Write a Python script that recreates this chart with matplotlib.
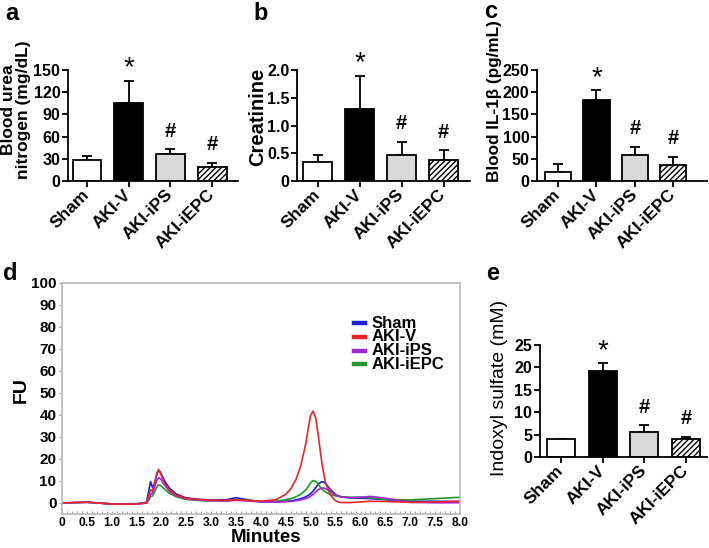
import matplotlib; matplotlib.use("Agg")
import matplotlib.pyplot as plt
from matplotlib.lines import Line2D
import numpy as np

plt.rcParams.update({"font.family": ["Liberation Sans", "DejaVu Sans"], "font.weight": "bold",
                     "hatch.linewidth": 1.0, "text.color": "black"})
W, H = 709, 548

# ---- bar data (a, b, c, e) ----
groups = ["Sham", "AKI-V", "AKI-iPS", "AKI-iEPC"]
bar_fill = ["white", "black", "#d9d9d9", "white"]
bar_hatch = [None, None, None, "//////"]
marks = ["", "*", "#", "#"]

bun_mean = [28.4, 105.8, 36.5, 19.4]
bun_err = [5.4, 29.8, 6.3, 5.4]
creat_mean = [0.34, 1.29, 0.47, 0.38]
creat_err = [0.12, 0.61, 0.24, 0.17]
il1b_mean = [21, 183, 59, 35]
il1b_err = [17, 21, 18, 19]
ind_mean = [4.0, 19.3, 5.6, 4.0]
ind_err = [0.0, 1.6, 1.5, 0.5]

# ---- chromatogram (d) ----
t_min = [0, 0.5, 1.0, 1.5, 1.70, 1.74, 1.78, 1.82, 1.86, 1.90, 1.94, 1.98, 2.05, 2.15, 2.3, 2.5,
         2.8, 3.0, 3.3, 3.5, 3.7, 4.0, 4.3, 4.5, 4.6, 4.7, 4.8, 4.9, 4.95, 5.0, 5.05, 5.1, 5.15,
         5.2, 5.25, 5.3, 5.4, 5.5, 5.6, 5.8, 6.0, 6.2, 6.5, 7.0, 7.5, 8.0]
fu_sham = [0, 0.4, -0.4, -0.3, 0.3, 5, 9.7, 7, 9, 12.5, 14.8, 14, 10.5, 7, 4, 2.3,
           1.6, 1.4, 1.5, 2.4, 1.6, 0.6, 0.6, 0.8, 1.0, 1.4, 2, 2.8, 3.5, 4.3, 5.5, 7, 8.5,
           9.5, 9.7, 8.8, 6, 3.8, 2.8, 2.3, 2.2, 2.0, 1.5, 0.8, 0.8, 0.6]
fu_akiv = [0, 0.4, -0.5, -0.5, 0, 3, 6, 5.5, 9, 13, 15.3, 13.5, 9.5, 6, 3.5, 2,
           1.5, 1.3, 1.2, 1.4, 1.2, 0.8, 1.5, 4, 6.5, 10.5, 17, 27, 34, 40, 41.8, 38.5, 31,
           22, 14.5, 9, 3.5, 1, 0.2, 0.2, 0.5, 0.8, 0.7, 0.3, 0.5, 0.8]
fu_ips = [0, 0.3, -0.4, -0.5, 0, 1.5, 4, 4.5, 7, 10, 11.5, 11, 8.5, 5.5, 3.2, 1.8,
          1.2, 1.0, 0.9, 1.2, 1.0, 0.5, 0.4, 0.6, 0.7, 1.0, 1.4, 2, 2.5, 3.2, 4.0, 5, 6,
          6.6, 6.9, 6.5, 5, 3.5, 2.8, 2.4, 2.6, 3.0, 2.2, 0.3, 0.1, 0.1]
fu_iepc = [0, 0.3, -0.4, -0.4, 0, 1.2, 3, 3.2, 5, 7, 8.2, 8, 6.5, 4.5, 2.8, 1.6,
           1.1, 1.0, 1.0, 1.5, 1.2, 0.6, 0.8, 1.5, 2, 2.8, 4, 6, 7.5, 9.3, 10.2, 9.8, 8.5,
           7, 5.8, 5, 3.8, 3.2, 2.9, 2.6, 2.6, 2.4, 1.6, 1.4, 2.0, 2.6]
trace_names = ["Sham", "AKI-V", "AKI-iPS", "AKI-iEPC"]
trace_vals = [fu_sham, fu_akiv, fu_ips, fu_iepc]
trace_cols = ["#1f1fd6", "#e8262a", "#a127d6", "#1f9a2a"]
draw_order = [0, 3, 2, 1]

fig = plt.figure(figsize=(W / 100, H / 100), dpi=100)
fig.patch.set_facecolor("white")

def box(l, t, r, b):
    return fig.add_axes([l / W, 1 - b / H, (r - l) / W, (b - t) / H])

def bar_panel(ax, means, errs, ylim, yticks, yticklabels, xlim, width=0.69):
    x = np.arange(len(groups))
    bars = ax.bar(x, means, width=width, color=bar_fill, edgecolor="black", linewidth=1.3, zorder=2)
    for b, h in zip(bars, bar_hatch):
        if h:
            b.set_hatch(h)
    ax.errorbar(x, means, yerr=[np.zeros(len(errs)), errs], fmt="none", ecolor="black",
                elinewidth=1.3, capsize=3.5, capthick=1.3, zorder=1)
    for i, m in enumerate(marks):
        if m == "*":
            ax.annotate(m, (i, means[i] + errs[i]), xytext=(0, 9), textcoords="offset points",
                        ha="center", va="center", fontsize=20, fontweight="normal", annotation_clip=False)
        elif m:
            ax.annotate(m, (i, means[i] + errs[i]), xytext=(0, 13), textcoords="offset points",
                        ha="center", va="center", fontsize=14.5, fontweight="bold", annotation_clip=False)
    ax.set_ylim(*ylim); ax.set_xlim(*xlim)
    ax.set_yticks(yticks); ax.set_yticklabels(yticklabels, fontsize=11.5, fontweight="bold")
    ax.set_xticks(x)
    ax.set_xticklabels(groups, rotation=45, ha="right", va="center", rotation_mode="anchor",
                       fontsize=12.5, fontweight="bold")
    for sp in ["top", "right"]:
        ax.spines[sp].set_visible(False)
    for sp in ["left", "bottom"]:
        ax.spines[sp].set_linewidth(1.3)
    ax.tick_params(axis="both", length=4, width=1.3, pad=1.5)
    ax.tick_params(axis="x", pad=4)

axa = box(68, 70, 238, 181)
bar_panel(axa, bun_mean, bun_err, (0, 150), range(0, 151, 30), [str(v) for v in range(0, 151, 30)], (-0.456, 3.62))
axb = box(297, 70, 470, 181)
bar_panel(axb, creat_mean, creat_err, (0, 2.0), [0, 0.5, 1.0, 1.5, 2.0], ["0", "0.5", "1.0", "1.5", "2.0"], (-0.5, 3.63))
axc = box(537, 70, 707, 181)
bar_panel(axc, il1b_mean, il1b_err, (0, 250), range(0, 251, 50), [str(v) for v in range(0, 251, 50)], (-0.55, 3.88))
axe = box(540, 345, 707, 457)
bar_panel(axe, ind_mean, ind_err, (0, 25), range(0, 26, 5), [str(v) for v in range(0, 26, 5)], (-0.5, 3.5), width=0.67)

# ---- chromatogram ----
axd = box(62, 283, 460, 514)
for k in draw_order:
    axd.plot(t_min, trace_vals[k], color=trace_cols[k], lw=1.2)
axd.set_xlim(0, 8); axd.set_ylim(-5, 100)
xt = np.arange(0, 8.01, 0.5)
axd.set_xticks(xt)
axd.set_xticklabels(["0"] + ["%.1f" % v for v in xt[1:]], fontsize=8.7, fontweight="bold")
axd.set_xticks(np.arange(0, 8.01, 0.1), minor=True)
axd.set_yticks(range(0, 101, 10))
axd.set_yticklabels([str(v) for v in range(0, 101, 10)], fontsize=11, fontweight="bold")
for sp in axd.spines.values():
    sp.set_color("#bdbdbd"); sp.set_linewidth(1.3)
axd.tick_params(axis="y", which="major", length=2.5, width=0.8, color="#9a9a9a", pad=1.5)
axd.tick_params(axis="x", which="both", direction="in", length=2, width=0.7, color="#9a9a9a", pad=2)
for i, name in enumerate(trace_names):
    y = 1 - (323 + i * 13.8) / H
    fig.add_artist(Line2D([354 / W, 365 / W], [y, y], color=trace_cols[i], lw=3.2))
    fig.text(372 / W, y, name, va="center", ha="left", fontsize=12, fontweight="bold")

# ---- axis titles ----
fig.text(16 / W, 1 - 110 / H, "Blood urea\nnitrogen (mg/dL)", rotation=90, ha="center", va="center",
         fontsize=12.5, fontweight="bold", linespacing=1.0)
fig.text(258 / W, 1 - 117 / H, "Creatinine", rotation=90, ha="center", va="center", fontsize=14.5, fontweight="bold")
fig.text(495 / W, 1 - 101 / H, "Blood IL-1β (pg/mL)", rotation=90, ha="center", va="center", fontsize=12.3, fontweight="bold")
fig.text(500 / W, 1 - 388 / H, "Indoxyl sulfate (mM)", rotation=90, ha="center", va="center", fontsize=14, fontweight="normal")
fig.text(21 / W, 1 - 390 / H, "FU", rotation=90, ha="center", va="center", fontsize=14, fontweight="bold")
fig.text(266 / W, 1 - 529 / H, "Minutes", ha="center", va="top", fontsize=13.5, fontweight="bold")

# ---- panel letters ----
for lab, x, y in [("a", 5, 20), ("b", 253, 20), ("c", 484, 18), ("d", 3, 280), ("e", 486, 280)]:
    fig.text(x / W, 1 - y / H, lab, ha="left", va="baseline", fontsize=17, fontweight="bold")

fig.savefig("out.png", dpi=100, facecolor="white")
plt.close(fig)
